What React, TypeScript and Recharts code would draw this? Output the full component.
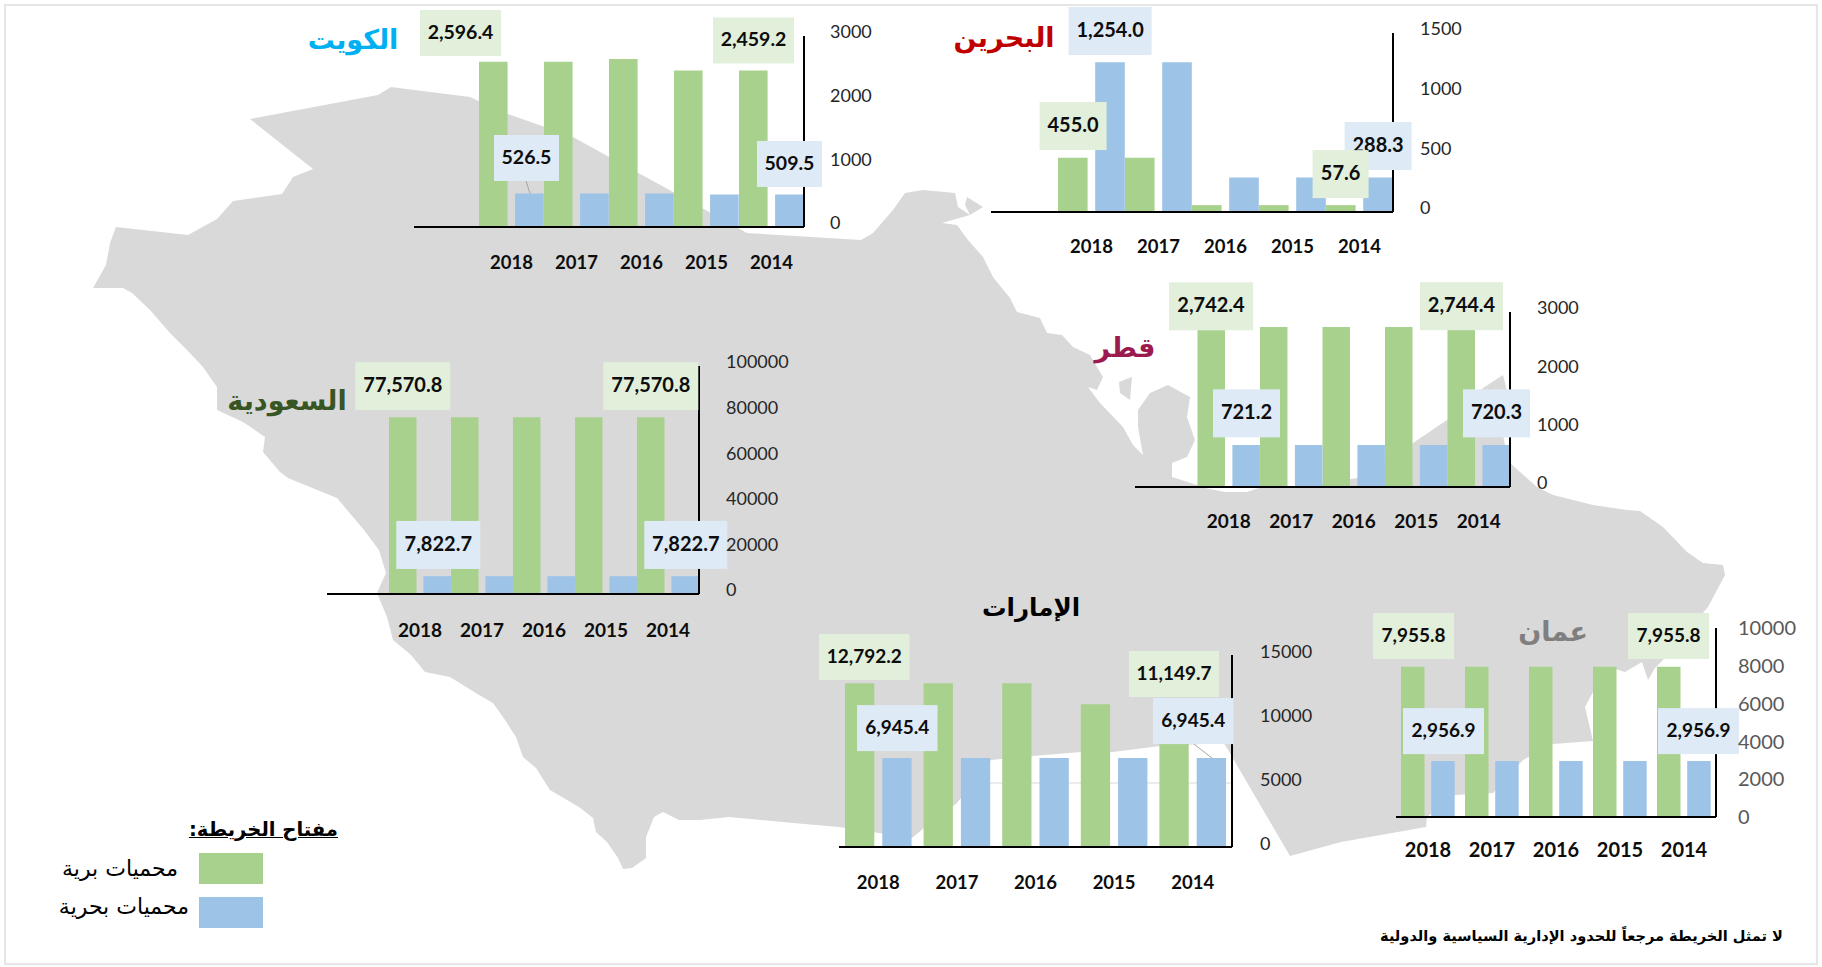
import { BarChart, Bar, XAxis, YAxis, CartesianGrid, ReferenceDot } from 'recharts'

const years = ['2018', '2017', '2016', '2015', '2014']

const kuwaitLand = [2596.4, 2596.4, 2640, 2459.2, 2459.2]
const kuwaitSea = [526.5, 526.5, 526.5, 509.5, 509.5]
const bahrainLand = [455.0, 455.0, 57.6, 57.6, 57.6]
const bahrainSea = [1254.0, 1254.0, 288.3, 288.3, 288.3]
const qatarLand = [2742.4, 2744.4, 2744.4, 2744.4, 2744.4]
const qatarSea = [721.2, 721.2, 721.2, 720.3, 720.3]
const saudiLand = [77570.8, 77570.8, 77570.8, 77570.8, 77570.8]
const saudiSea = [7822.7, 7822.7, 7822.7, 7822.7, 7822.7]
const uaeLand = [12792.2, 12792.2, 12792.2, 11149.7, 11149.7]
const uaeSea = [6945.4, 6945.4, 6945.4, 6945.4, 6945.4]
const omanLand = [7955.8, 7955.8, 7955.8, 7955.8, 7955.8]
const omanSea = [2956.9, 2956.9, 2956.9, 2956.9, 2956.9]

const kuwaitTicks = [0, 1000, 2000, 3000]
const bahrainTicks = [0, 500, 1000, 1500]
const qatarTicks = [0, 1000, 2000, 3000]
const saudiTicks = [0, 20000, 40000, 60000, 80000, 100000]
const uaeTicks = [0, 5000, 10000, 15000]
const omanTicks = [0, 2000, 4000, 6000, 8000, 10000]

const GREEN = '#a9d18e'
const BLUE = '#9dc3e6'
const GREEN_BOX = '#e2efda'
const BLUE_BOX = '#deeaf6'
const MAP_GREY = '#d9d9d9'
const FONT = 'Lato, sans-serif'
const ARABIC = '"DejaVu Sans", sans-serif'

// margins around the plot so the callouts have room inside the svg
const M_TOP = 50
const M_LEFT = 50
const AXIS_W = 120
const AXIS_H = 60

// outline of the peninsula (background only, not data)
const mapOutline = `250,119 378,95 391,87 470,97 505,113 573,137 620,163 675,193 711,213 747,233 861,240 873,233 893,210 905,193 923,190 955,193 958,207 970,215 942,223 957,225 968,240 983,257 993,277 1010,298 1017,312 1040,318 1047,333 1062,335 1073,347 1090,355 1097,367 1103,377 1097,390 1088,387 1100,403 1123,427 1133,445 1143,455 1138,427 1138,410 1150,393 1168,385 1190,397 1187,417 1195,440 1187,457 1172,463 1172,477 1197,485 1205,488 1225,492 1247,492 1262,487 1300,487 1357,478 1413,443 1447,420 1483,388 1503,375 1508,395 1500,420 1505,445 1510,463 1537,487 1553,495 1593,505 1627,510 1640,511 1663,527 1687,552 1703,563 1723,565 1725,575 1708,607 1680,640 1663,660 1655,668 1648,680 1642,662 1625,672 1612,668 1593,692 1585,707 1593,741 1553,744 1523,760 1493,793 1455,795 1427,817 1426,827 1341,842 1290,856 1224,743 1160,746 1113,752 1082,752 1032,756 991,760 957,803 924,828 912,838 839,827 793,823 729,817 700,820 679,820 663,812 654,817 646,837 646,858 632,868 623,869 618,858 607,842 596,832 593,818 579,807 550,790 536,768 523,757 516,737 505,720 493,703 479,695 450,677 425,672 411,655 393,640 387,617 377,593 386,573 379,550 364,530 353,517 337,498 310,487 288,478 280,472 263,452 265,437 243,422 217,410 217,387 203,367 187,350 170,333 150,310 132,293 123,288 93,288 106,265 110,243 116,227 188,235 217,219 233,201 282,194 293,177 313,169`
const islands = ['1119,382 1132,377 1130,400 1120,393', '967,197 983,207 970,215 965,205']

type Callout = {
  year: string
  series: 'land' | 'sea'
  dx: number
  dy: number
  w: number
  h: number
  leader?: number[]
}

type Panel = {
  id: string
  left: number
  top: number
  plotW: number
  plotH: number
  emptyBand: boolean
  land: number[]
  sea: number[]
  ticks: number[]
  barSize: number
  barGap: number
  tickMargin: number
  yearMargin: number
  yearSize: number
  tickSize: number
  tickColor: string
  tickDy: number
  calloutSize: number
  grid?: boolean
  callouts: Callout[]
}

const panels: Panel[] = [
  {
    id: 'kuwait', left: 414, top: 36, plotW: 390, plotH: 191, emptyBand: true,
    land: kuwaitLand, sea: kuwaitSea, ticks: kuwaitTicks,
    barSize: 28.6, barGap: 7.5, tickMargin: 20, yearMargin: 23, yearSize: 18.5, tickSize: 18, tickColor: '#262626', tickDy: -4, calloutSize: 19.5,
    callouts: [
      { year: '2018', series: 'land', dx: -51, dy: -28.7, w: 81, h: 46 },
      { year: '2014', series: 'land', dx: -18, dy: -30, w: 81, h: 46 },
      { year: '2018', series: 'sea', dx: 15, dy: -35.5, w: 65, h: 46, leader: [14.5, -12.5, 18.5, 0] },
      { year: '2014', series: 'sea', dx: 18, dy: -30.6, w: 65, h: 46 },
    ],
  },
  {
    id: 'bahrain', left: 991.4, top: 33, plotW: 402, plotH: 179, emptyBand: true,
    land: bahrainLand, sea: bahrainSea, ticks: bahrainTicks,
    barSize: 29.6, barGap: 7.6, tickMargin: 21, yearMargin: 22, yearSize: 18.5, tickSize: 18, tickColor: '#262626', tickDy: -4, calloutSize: 20,
    callouts: [
      { year: '2018', series: 'sea', dx: 18.6, dy: -31.4, w: 83, h: 48 },
      { year: '2018', series: 'land', dx: -18.4, dy: -31.7, w: 67, h: 48 },
      { year: '2014', series: 'sea', dx: 18.6, dy: -31.6, w: 67, h: 48 },
      { year: '2014', series: 'land', dx: -18.9, dy: -31, w: 56, h: 48 },
    ],
  },
  {
    id: 'qatar', left: 1135, top: 312, plotW: 375, plotH: 175, emptyBand: true,
    land: qatarLand, sea: qatarSea, ticks: qatarTicks,
    barSize: 27.5, barGap: 7.4, tickMargin: 21, yearMargin: 22, yearSize: 19, tickSize: 18, tickColor: '#262626', tickDy: -4, calloutSize: 20,
    callouts: [
      { year: '2018', series: 'land', dx: -17.75, dy: -20.7, w: 84, h: 48 },
      { year: '2014', series: 'land', dx: -17.25, dy: -20.7, w: 83, h: 48 },
      { year: '2018', series: 'sea', dx: 17.75, dy: -31.6, w: 67, h: 48 },
      { year: '2014', series: 'sea', dx: 17.75, dy: -31.6, w: 67, h: 48 },
    ],
  },
  {
    id: 'saudi', left: 327, top: 366, plotW: 372, plotH: 228, emptyBand: true,
    land: saudiLand, sea: saudiSea, ticks: saudiTicks,
    barSize: 27.5, barGap: 6.9, tickMargin: 21, yearMargin: 24, yearSize: 19, tickSize: 18, tickColor: '#262626', tickDy: -4, calloutSize: 20,
    callouts: [
      { year: '2018', series: 'land', dx: -17.2, dy: -31, w: 95, h: 48 },
      { year: '2014', series: 'land', dx: -17.2, dy: -31, w: 95, h: 48 },
      { year: '2018', series: 'sea', dx: 18.3, dy: -31.2, w: 84, h: 48 },
      { year: '2014', series: 'sea', dx: 17.8, dy: -31.2, w: 83, h: 48 },
    ],
  },
  {
    id: 'uae', left: 839, top: 655, plotW: 393, plotH: 192, emptyBand: false,
    land: uaeLand, sea: uaeSea, ticks: uaeTicks,
    barSize: 29.3, barGap: 8, tickMargin: 22, yearMargin: 23, yearSize: 18.5, tickSize: 18, tickColor: '#262626', tickDy: -3, calloutSize: 19,
    grid: true,
    callouts: [
      { year: '2018', series: 'land', dx: -14, dy: -26.3, w: 90.5, h: 46 },
      { year: '2014', series: 'land', dx: -18.7, dy: -30.3, w: 90, h: 46 },
      { year: '2018', series: 'sea', dx: 19, dy: -30, w: 80.5, h: 46 },
      { year: '2014', series: 'sea', dx: 0.5, dy: -37, w: 80.5, h: 46, leader: [1.3, -14, 19.3, 0] },
    ],
  },
  {
    id: 'oman', left: 1396, top: 628, plotW: 320, plotH: 189, emptyBand: false,
    land: omanLand, sea: omanSea, ticks: omanTicks,
    barSize: 23.5, barGap: 6.7, tickMargin: 16, yearMargin: 20, yearSize: 20, tickSize: 20, tickColor: '#595959', tickDy: 0, calloutSize: 19,
    callouts: [
      { year: '2018', series: 'land', dx: -14.5, dy: -30.6, w: 81, h: 46 },
      { year: '2014', series: 'land', dx: -15.5, dy: -30.6, w: 81, h: 46 },
      { year: '2018', series: 'sea', dx: 15.5, dy: -30, w: 81, h: 46 },
      { year: '2014', series: 'sea', dx: 14.5, dy: -30, w: 81, h: 46 },
    ],
  },
]

const titles = [
  { text: 'الكويت', x: 353, y: 39, size: 27, color: '#00b0f0' },
  { text: 'البحرين', x: 1004, y: 37, size: 27, color: '#c00000' },
  { text: 'قطر', x: 1125, y: 347, size: 27, color: '#9b1b4f' },
  { text: 'السعودية', x: 287, y: 400, size: 27, color: '#375623' },
  { text: 'الإمارات', x: 1031, y: 607, size: 24.5, color: '#000000' },
  { text: 'عمان', x: 1553, y: 631, size: 27, color: '#7f7f7f' },
]

const fmt = (v: number) => v.toLocaleString('en-US', { minimumFractionDigits: 1, maximumFractionDigits: 1 })

const CalloutBox = ({ cx, cy, c, value, size }: any) => {
  const fill = c.series === 'land' ? GREEN_BOX : BLUE_BOX
  return (
    <g>
      {c.leader && (
        <line
          x1={cx + c.leader[0]} y1={cy + c.leader[1]}
          x2={cx + c.leader[2]} y2={cy + c.leader[3]}
          stroke="#a6a6a6" strokeWidth={1}
        />
      )}
      <rect x={cx + c.dx - c.w / 2} y={cy + c.dy - c.h / 2} width={c.w} height={c.h} fill={fill} />
      <text
        x={cx + c.dx} y={cy + c.dy} dy="0.3em" textAnchor="middle"
        fontFamily={FONT} fontWeight={700} fontSize={size} fill="#0d0d0d"
      >
        {fmt(value)}
      </text>
    </g>
  )
}

const PanelChart = ({ p }: { p: Panel }) => {
  const data = years.map((year, i) => ({ year, land: p.land[i], sea: p.sea[i] }))
  const band = p.plotW / (p.emptyBand ? 6 : 5)
  const domainMax = p.ticks[p.ticks.length - 1]
  return (
    <div style={{ position: 'absolute', left: p.left - M_LEFT, top: p.top - M_TOP }}>
      <BarChart
        width={p.plotW + M_LEFT + AXIS_W}
        height={p.plotH + M_TOP + AXIS_H}
        data={data}
        margin={{ top: M_TOP, left: M_LEFT, right: 0, bottom: 0 }}
        barSize={p.barSize}
        barGap={p.barGap}
      >
        {p.grid && <CartesianGrid vertical={false} stroke={MAP_GREY} strokeWidth={1} />}
        <XAxis
          dataKey="year"
          interval={0}
          height={AXIS_H}
          padding={{ left: p.emptyBand ? band : 0, right: 0 }}
          tickLine={false}
          tickMargin={p.yearMargin}
          axisLine={{ stroke: '#000', strokeWidth: 2 }}
          tick={{ fontSize: p.yearSize, fontWeight: 700, fill: '#0d0d0d', fontFamily: FONT }}
        />
        <YAxis
          orientation="right"
          width={AXIS_W}
          domain={[0, domainMax]}
          ticks={p.ticks}
          interval={0}
          tickLine={false}
          tickMargin={p.tickMargin}
          axisLine={{ stroke: '#000', strokeWidth: 2 }}
          tick={{ fontSize: p.tickSize, fill: p.tickColor, fontFamily: FONT, dy: p.tickDy }}
        />
        <Bar dataKey="land" fill={GREEN} isAnimationActive={false} />
        <Bar dataKey="sea" fill={BLUE} isAnimationActive={false} />
        {p.callouts.map((c) => {
          const value = (c.series === 'land' ? p.land : p.sea)[years.indexOf(c.year)]
          return (
            <ReferenceDot
              key={c.year + c.series}
              x={c.year}
              y={value}
              r={0}
              ifOverflow="visible"
              shape={(props: any) => <CalloutBox cx={props.cx} cy={props.cy} c={c} value={value} size={p.calloutSize} />}
            />
          )
        })}
      </BarChart>
    </div>
  )
}

export default function App() {
  return (
    <div
      style={{
        position: 'fixed', left: 0, top: 0, width: 1822, height: 967,
        background: '#fff', overflow: 'hidden', fontFamily: FONT,
      }}
    >
      <svg width={1822} height={967} style={{ position: 'absolute', left: 0, top: 0 }}>
        <rect x={5} y={5} width={1812} height={959} fill="#fff" stroke="#e6e6e6" strokeWidth={2} />
        <polygon points={mapOutline} fill={MAP_GREY} />
        {islands.map((pts) => (
          <polygon key={pts} points={pts} fill={MAP_GREY} />
        ))}
      </svg>

      {panels.map((p) => (
        <PanelChart key={p.id} p={p} />
      ))}

      {titles.map((t) => (
        <div
          key={t.text}
          dir="rtl"
          style={{
            position: 'absolute', left: t.x, top: t.y, transform: 'translate(-50%, -50%)',
            fontFamily: ARABIC, fontWeight: 700, fontSize: t.size, color: t.color, whiteSpace: 'nowrap',
          }}
        >
          {t.text}
        </div>
      ))}

      {/* map key */}
      <div dir="rtl" style={{ position: 'absolute', left: 191, top: 818, width: 147, fontFamily: ARABIC, fontWeight: 700, fontSize: 19.6, color: '#000', textDecoration: 'underline', whiteSpace: 'nowrap' }}>
        مفتاح الخريطة:
      </div>
      <div style={{ position: 'absolute', left: 199, top: 853, width: 64, height: 31, background: GREEN }} />
      <div style={{ position: 'absolute', left: 199, top: 897, width: 64, height: 31, background: BLUE }} />
      <div dir="rtl" style={{ position: 'absolute', left: 40, top: 856, width: 138, fontFamily: ARABIC, fontSize: 22, color: '#000', whiteSpace: 'nowrap' }}>
        محميات برية
      </div>
      <div dir="rtl" style={{ position: 'absolute', left: 40, top: 894, width: 149, fontFamily: ARABIC, fontSize: 22, color: '#000', whiteSpace: 'nowrap' }}>
        محميات بحرية
      </div>

      <div dir="rtl" style={{ position: 'absolute', left: 1300, top: 927, width: 483, fontFamily: ARABIC, fontWeight: 700, fontSize: 14.6, color: '#000', whiteSpace: 'nowrap' }}>
        لا تمثل الخريطة مرجعاً للحدود الإدارية السياسية والدولية
      </div>
    </div>
  )
}
